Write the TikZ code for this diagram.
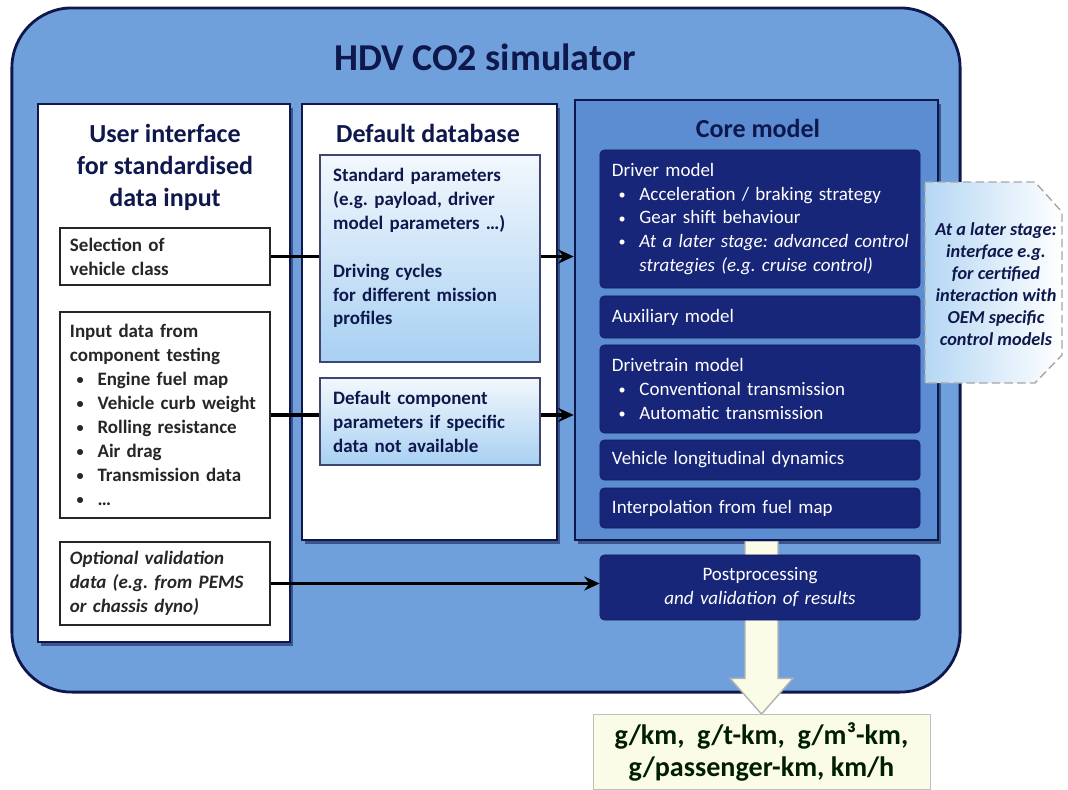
\documentclass[tikz,border=0pt]{standalone}
\usepackage{fontspec}
\setmainfont{Carlito}
\usetikzlibrary{arrows.meta,positioning,calc,shadows}

\definecolor{simblue}{RGB}{112,160,220}
\definecolor{coreblue}{RGB}{92,140,210}
\definecolor{navy}{RGB}{24,38,122}
\definecolor{inknavy}{RGB}{14,24,76}
\definecolor{paleblue}{RGB}{168,208,242}
\definecolor{cream}{RGB}{251,252,232}

\pgfdeclarelayer{back}
\pgfdeclarelayer{panels}
\pgfdeclarelayer{links}
\pgfsetlayers{back,panels,links,main}

\frenchspacing
\newcommand{\itm}{\hspace*{0.35em}\makebox[1.1em][l]{\raisebox{0.1ex}{\scalebox{0.75}{\textbullet}}}}
\newcommand{\boxfont}{\fontsize{13.5}{17}\selectfont}
\newcommand{\corefont}{\fontsize{13.5}{17}\selectfont}

\tikzset{
  simframe/.style={draw=inknavy, line width=2pt, fill=simblue, rounded corners=1.5cm},
  panel/.style={draw=inknavy, line width=1.8pt, fill=white,
    drop shadow={shadow xshift=2pt, shadow yshift=-3pt, fill=inknavy, opacity=0.55}},
  paneltitle/.style={font=\fontsize{18.5}{22.7}\selectfont\bfseries, text=inknavy, align=center},
  inbox/.style={draw=black!85, line width=1pt, fill=white, align=left, inner xsep=0.25cm,
    text width=4.75cm, font=\boxfont\bfseries, text=black!85},
  dbbox/.style={draw=inknavy!80, line width=1pt, top color=paleblue!15, bottom color=paleblue,
    align=left, inner xsep=0.33cm, text width=4.84cm, font=\boxfont\bfseries, text=inknavy},
  navybox/.style={draw=navy!70!black, fill=navy, rounded corners=3pt, text=white, align=left,
    inner xsep=0.3cm, text width=7.4cm, font=\corefont},
  feed/.style={-{Stealth[length=11pt,width=10pt]}, line width=2.2pt, black},
  hollow/.style={draw=gray!60, line width=1pt, fill=cream},
  outbox/.style={draw=gray!50, line width=0.6pt, fill=cream, align=center, minimum width=8.425cm,
    minimum height=1.875cm, font=\fontsize{20}{23}\selectfont\bfseries, text=black!88!green},
  latertext/.style={font=\fontsize{13}{15.6}\selectfont\bfseries\itshape, text=inknavy, align=center}
}

\begin{document}
\begin{tikzpicture}[x=0.025cm,y=-0.025cm,>=Stealth]
\useasboundingbox (0,0) rectangle (1068,790);

% outer frame
\begin{pgfonlayer}{back}
\node[simframe, minimum width=23.7cm, minimum height=17.1cm] (sim) at (486,350) {};
\end{pgfonlayer}
\node[font=\fontsize{27}{30}\selectfont\bfseries, text=inknavy] (simtitle) at (485,57) {HDV CO2 simulator};

% the three columns
\begin{pgfonlayer}{panels}
\node[panel, minimum width=6.3cm, minimum height=13.45cm] (ui) at (164,373) {};
\node[panel, minimum width=6.375cm, minimum height=10.9cm] (db) at (429.5,322) {};
\node[panel, fill=coreblue, minimum width=9.075cm, minimum height=11cm] (core) at (756.5,320) {};
\end{pgfonlayer}

% user interface
\node[paneltitle] (uititle) at (165,167) {User interface\\for standardised\\data input};
\node[inbox, minimum height=1.425cm] (sel) at (165,256.5) {Selection of\\vehicle class};
\node[inbox, minimum height=5.15cm] (inp) at (165,415) {Input data from\\component testing\\
  \itm Engine fuel map\\ \itm Vehicle curb weight\\ \itm Rolling resistance\\
  \itm Air drag\\ \itm Transmission data\\ \itm \dots};
\node[inbox, minimum height=2.075cm, font=\boxfont\bfseries\itshape] (opt) at (165,583.5)
  {Optional validation\\data (e.g. from PEMS\\or chassis dyno)};

% default database
\node[paneltitle] (dbtitle) at (428,133) {Default database};
\node[dbbox, minimum height=5.175cm] (std) at (430,258.5) {Standard parameters\\(e.g. payload, driver\\
  model parameters \dots)\\[17pt]Driving cycles\\for different mission\\profiles\\ ~};
\node[dbbox, minimum height=2.175cm] (dflt) at (430,421.5)
  {Default component\\parameters if specific\\data not available};

% core model
\node[paneltitle] (coretitle) at (758,128) {Core model};
\node[navybox, minimum height=3.45cm] (driver) at (760,219) {Driver model\\
  \itm Acceleration / braking strategy\\ \itm Gear shift behaviour\\
  \mbox{\itm\textit{At a later stage: advanced control}}\\ \hspace*{1.45em}\textit{strategies (e.g. cruise control)}};
\node[navybox, minimum height=1.05cm] (aux) at (760,317) {Auxiliary model};
\node[navybox, minimum height=2.2cm] (drive) at (760,389) {Drivetrain model\\
  \itm Conventional transmission\\ \itm Automatic transmission};
\node[navybox, minimum height=1cm] (dyn) at (760,460) {Vehicle longitudinal dynamics};
\node[navybox, minimum height=1cm] (interp) at (760,508) {Interpolation from fuel map};

\node[navybox, align=center, minimum height=1.625cm] (post) at (760,587.5)
  {Postprocessing\\\textit{and validation of results}};

% result
\node[outbox] (out) at (761.5,752) {g/km,\ \ g/t-km,\ \ g/m³-km,\\g/passenger-km, km/h};

% later stage note
\path[draw=gray!70, dash pattern=on 6pt off 3pt, line width=1pt, left color=paleblue!85, right color=white]
  (925,182) -- (1035,182) -- (1062,212) -- (1062,355) -- (1035,383) -- (925,383) -- cycle;
\node[latertext] (later) at (996,284) {At a later stage:\\interface e.g.\\for certified\\
  interaction with\\OEM specific\\control models};

% connectors
\begin{pgfonlayer}{links}
\draw[feed] (sel.east) -- (sel.east -| core.west);
\draw[feed] (inp.east) -- (inp.east -| core.west);
\draw[feed] (opt.east) -- (opt.east -| post.west);
\draw[hollow] ($(out.north |- core.south)+(-16.5,0)$) -- ++(0,137) -- ++(-15,0) -- (out.north)
  -- ($(out.north |- core.south)+(31.5,137)$) -- ++(-15,0) -- ($(out.north |- core.south)+(16.5,0)$);
\end{pgfonlayer}
\end{tikzpicture}
\end{document}
